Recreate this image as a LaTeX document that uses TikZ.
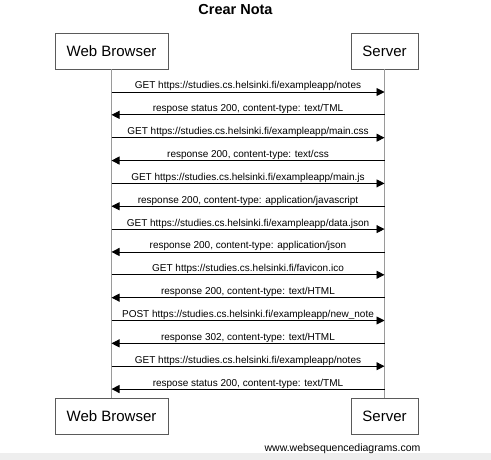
\documentclass[tikz,border=0pt]{standalone}
\usepackage{fontspec}
\setmainfont{Liberation Sans}
\usetikzlibrary{arrows.meta, positioning, calc}
\definecolor{boxline}{HTML}{5A5A5A}
\definecolor{lifeline}{HTML}{9A9A9A}
\definecolor{footer}{HTML}{EEEEEE}
\tikzset{
    actor/.style={rectangle, draw=boxline, line width=0.9pt, inner sep=0pt, minimum height=36pt, font=\fontsize{15}{17}\selectfont},
    msg/.style={line width=0.9pt, -{Triangle[length=8pt,width=8pt]}},
    lbl/.style={anchor=base, inner sep=0pt, yshift=3pt, font=\fontsize{10}{12}\selectfont},
    life/.style={draw=lifeline, line width=1.1pt}
}

\begin{document}
\begin{tikzpicture}[x=1pt, y=-1pt]
    \useasboundingbox (0,0) rectangle (491,460);
    \fill[footer] (0,453) rectangle (491,460);

    \node (title) at (235.5,10) {\fontsize{14.5}{17}\selectfont\bfseries Crear Nota};

    % participants
    \node (bt) [actor, minimum width=113pt] at (111.5,51) {Web Browser};
    \node (st) [actor, minimum width=67pt] at (384.5,51) {Server};
    \node (bb) [actor, minimum width=113pt] at (111.5,416.5) {Web Browser};
    \node (sb) [actor, minimum width=67pt] at (384.5,416.5) {Server};

    \draw [life] (bt) -- (bb);
    \draw [life] (st) -- (sb);

    % message rows
    \foreach \i in {1,...,14}
        \coordinate (m\i) at (0,{92+(\i-1)*22.85});

    \draw [msg] (bt |- m1) -- node[lbl] {GET https://studies.cs.helsinki.fi/exampleapp/notes} (st |- m1);
    \draw [msg] (st |- m2) -- node[lbl] {respose status 200, content-type: text/TML} (bt |- m2);
    \draw [msg] (bt |- m3) -- node[lbl] {GET https://studies.cs.helsinki.fi/exampleapp/main.css} (st |- m3);
    \draw [msg] (st |- m4) -- node[lbl] {response 200, content-type: text/css} (bt |- m4);
    \draw [msg] (bt |- m5) -- node[lbl] {GET https://studies.cs.helsinki.fi/exampleapp/main.js} (st |- m5);
    \draw [msg] (st |- m6) -- node[lbl] {response 200, content-type: application/javascript} (bt |- m6);
    \draw [msg] (bt |- m7) -- node[lbl] {GET https://studies.cs.helsinki.fi/exampleapp/data.json} (st |- m7);
    \draw [msg] (st |- m8) -- node[lbl] {response 200, content-type: application/json} (bt |- m8);
    \draw [msg] (bt |- m9) -- node[lbl] {GET https://studies.cs.helsinki.fi/favicon.ico} (st |- m9);
    \draw [msg] (st |- m10) -- node[lbl] {response 200, content-type: text/HTML} (bt |- m10);
    \draw [msg] (bt |- m11) -- node[lbl] {POST https://studies.cs.helsinki.fi/exampleapp/new\_note} (st |- m11);
    \draw [msg] (st |- m12) -- node[lbl] {response 302, content-type: text/HTML} (bt |- m12);
    \draw [msg] (bt |- m13) -- node[lbl] {GET https://studies.cs.helsinki.fi/exampleapp/notes} (st |- m13);
    \draw [msg] (st |- m14) -- node[lbl] {respose status 200, content-type: text/TML} (bt |- m14);

    \node (credit) [font=\fontsize{10.5}{12}\selectfont] at (342.5,448.5) {www.websequencediagrams.com};
\end{tikzpicture}
\end{document}
